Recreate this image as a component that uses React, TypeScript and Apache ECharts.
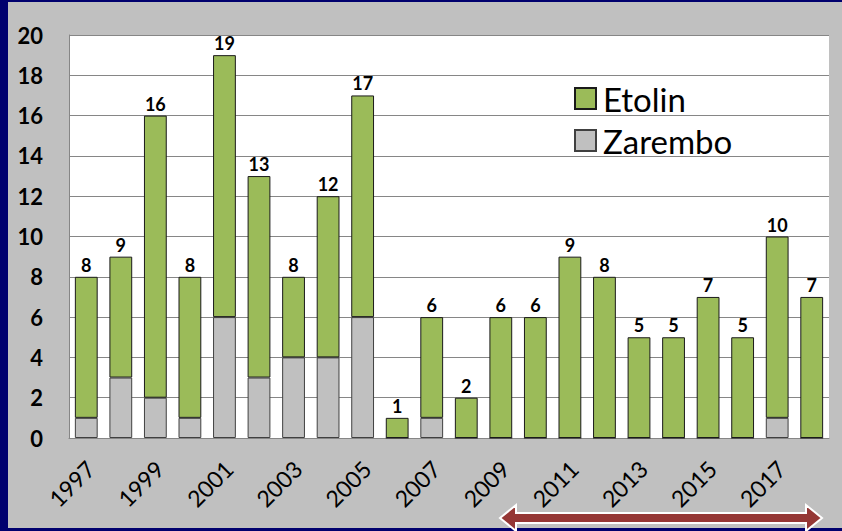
import React, { useEffect, useRef } from "react";
import * as echarts from "echarts";

const years = ["1997","1998","1999","2000","2001","2002","2003","2004","2005","2006","2007","2008","2009","2010","2011","2012","2013","2014","2015","2016","2017","2018"];
const totals = [8, 9, 16, 8, 19, 13, 8, 12, 17, 1, 6, 2, 6, 6, 9, 8, 5, 5, 7, 5, 10, 7];
const zarembo = [1, 3, 2, 1, 6, 3, 4, 4, 6, 0, 1, 0, 0, 0, 0, 0, 0, 0, 0, 0, 1, 0];
const etolin = [7, 6, 14, 7, 13, 10, 4, 8, 11, 1, 5, 2, 6, 6, 9, 8, 5, 5, 7, 5, 9, 7];
const yTicks = { min: 0, max: 20, interval: 2 };

const FONT = "Lato";

export default function App() {
  const ref = useRef<HTMLDivElement>(null);
  useEffect(() => {
    document.body.style.margin = "0";
    if (!ref.current) return;
    const chart = echarts.init(ref.current, null, { renderer: "svg" });
    chart.setOption({
      animation: false,
      backgroundColor: "transparent",
      textStyle: { fontFamily: FONT, color: "#000" },
      grid: {
        left: 69, top: 35, right: 13, bottom: 93,
        show: true, backgroundColor: "#ffffff", borderWidth: 0,
      },
      legend: {
        orient: "vertical",
        left: 569, top: 77,
        itemWidth: 21, itemHeight: 21, itemGap: 9,
        icon: "rect",
        data: ["Etolin", "Zarembo"],
        textStyle: { fontFamily: FONT, fontSize: 33, color: "#000", padding: [0, 0, 0, 2] },
      },
      xAxis: {
        type: "category",
        data: years,
        axisLine: { show: true, lineStyle: { color: "#868686", width: 1 } },
        axisTick: { show: false },
        axisLabel: {
          interval: 1, rotate: 45, margin: 31,
          padding: [0, -6, 0, 0],
          fontFamily: FONT, fontSize: 23, color: "#000",
        },
      },
      yAxis: {
        type: "value",
        min: yTicks.min, max: yTicks.max, interval: yTicks.interval,
        axisLine: { show: true, lineStyle: { color: "#868686", width: 1 } },
        axisTick: { show: false },
        splitLine: { show: true, lineStyle: { color: "#868686", width: 1 } },
        axisLabel: { margin: 26, fontFamily: FONT, fontSize: 22, fontWeight: "bold", color: "#000" },
      },
      series: [
        {
          name: "Zarembo", type: "bar", stack: "t", data: zarembo,
          barWidth: "66%",
          itemStyle: { color: "#C0C0C0", borderColor: "#404040", borderWidth: 1 },
        },
        {
          name: "Etolin", type: "bar", stack: "t", data: etolin,
          barWidth: "66%",
          itemStyle: { color: "#9BBB59", borderColor: "#1a1a1a", borderWidth: 1 },
          label: {
            show: true, position: "top", distance: 3,
            fontFamily: FONT, fontSize: 18, fontWeight: "bold", color: "#000",
            formatter: (p: any) => String(totals[p.dataIndex]),
          },
        },
      ],
      graphic: {
        elements: [
          {
            type: "polygon",
            z: 100,
            shape: {
              points: [
                [500, 518], [516, 505], [516, 513], [806, 513], [806, 505],
                [822, 518], [806, 531], [806, 523], [516, 523], [516, 531],
              ],
            },
            style: { fill: "#953735", stroke: "#ffffff", lineWidth: 2 },
          },
        ],
      },
    });
    return () => chart.dispose();
  }, []);
  return (
    <div style={{ position: "absolute", left: 0, top: 0, width: 842, height: 531, background: "#00006E", overflow: "hidden" }}>
      <div style={{ position: "absolute", left: 8, top: 2, width: 834, height: 526, background: "#C0C0C0" }} />
      <div ref={ref} style={{ position: "absolute", left: 0, top: 0, width: 842, height: 531 }} />
    </div>
  );
}
